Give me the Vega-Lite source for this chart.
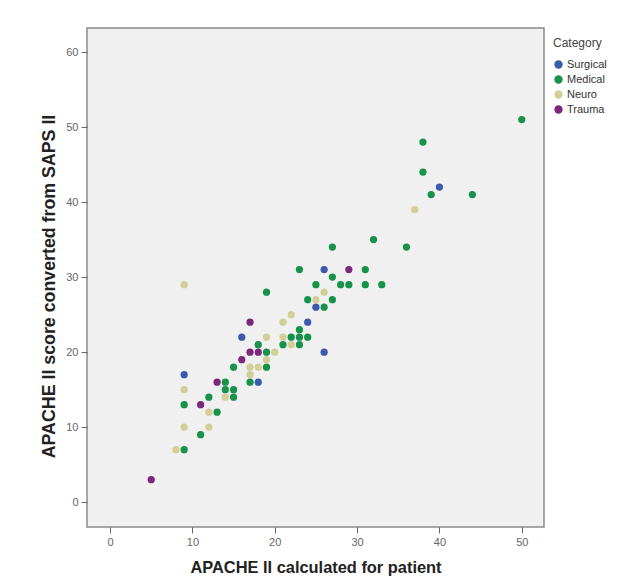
{
  "$schema": "https://vega.github.io/schema/vega-lite/v6.json",
  "width": 457,
  "height": 499,
  "autosize": {"type": "none"},
  "padding": {"left": 87, "top": 28, "right": 94, "bottom": 54},
  "background": "white",
  "config": {
    "font": "Liberation Sans",
    "view": {"fill": "#f0f0f0", "stroke": "#8a8a8a", "strokeWidth": 1.5}
  },
  "data": {
    "values": [
      {"apache": 40, "saps": 42, "category": "Surgical"},
      {"apache": 26, "saps": 31, "category": "Surgical"},
      {"apache": 25, "saps": 26, "category": "Surgical"},
      {"apache": 24, "saps": 24, "category": "Surgical"},
      {"apache": 16, "saps": 22, "category": "Surgical"},
      {"apache": 26, "saps": 20, "category": "Surgical"},
      {"apache": 9, "saps": 17, "category": "Surgical"},
      {"apache": 18, "saps": 16, "category": "Surgical"},
      {"apache": 50, "saps": 51, "category": "Medical"},
      {"apache": 38, "saps": 48, "category": "Medical"},
      {"apache": 38, "saps": 44, "category": "Medical"},
      {"apache": 39, "saps": 41, "category": "Medical"},
      {"apache": 44, "saps": 41, "category": "Medical"},
      {"apache": 32, "saps": 35, "category": "Medical"},
      {"apache": 27, "saps": 34, "category": "Medical"},
      {"apache": 36, "saps": 34, "category": "Medical"},
      {"apache": 23, "saps": 31, "category": "Medical"},
      {"apache": 31, "saps": 31, "category": "Medical"},
      {"apache": 27, "saps": 30, "category": "Medical"},
      {"apache": 19, "saps": 28, "category": "Medical"},
      {"apache": 25, "saps": 29, "category": "Medical"},
      {"apache": 28, "saps": 29, "category": "Medical"},
      {"apache": 29, "saps": 29, "category": "Medical"},
      {"apache": 31, "saps": 29, "category": "Medical"},
      {"apache": 33, "saps": 29, "category": "Medical"},
      {"apache": 24, "saps": 27, "category": "Medical"},
      {"apache": 27, "saps": 27, "category": "Medical"},
      {"apache": 26, "saps": 26, "category": "Medical"},
      {"apache": 23, "saps": 23, "category": "Medical"},
      {"apache": 22, "saps": 22, "category": "Medical"},
      {"apache": 23, "saps": 22, "category": "Medical"},
      {"apache": 24, "saps": 22, "category": "Medical"},
      {"apache": 18, "saps": 21, "category": "Medical"},
      {"apache": 21, "saps": 21, "category": "Medical"},
      {"apache": 23, "saps": 21, "category": "Medical"},
      {"apache": 19, "saps": 20, "category": "Medical"},
      {"apache": 15, "saps": 18, "category": "Medical"},
      {"apache": 19, "saps": 18, "category": "Medical"},
      {"apache": 17, "saps": 16, "category": "Medical"},
      {"apache": 14, "saps": 16, "category": "Medical"},
      {"apache": 14, "saps": 15, "category": "Medical"},
      {"apache": 15, "saps": 15, "category": "Medical"},
      {"apache": 12, "saps": 14, "category": "Medical"},
      {"apache": 15, "saps": 14, "category": "Medical"},
      {"apache": 9, "saps": 13, "category": "Medical"},
      {"apache": 13, "saps": 12, "category": "Medical"},
      {"apache": 11, "saps": 9, "category": "Medical"},
      {"apache": 9, "saps": 7, "category": "Medical"},
      {"apache": 37, "saps": 39, "category": "Neuro"},
      {"apache": 9, "saps": 29, "category": "Neuro"},
      {"apache": 26, "saps": 28, "category": "Neuro"},
      {"apache": 25, "saps": 27, "category": "Neuro"},
      {"apache": 22, "saps": 25, "category": "Neuro"},
      {"apache": 21, "saps": 24, "category": "Neuro"},
      {"apache": 19, "saps": 22, "category": "Neuro"},
      {"apache": 21, "saps": 22, "category": "Neuro"},
      {"apache": 22, "saps": 21, "category": "Neuro"},
      {"apache": 20, "saps": 20, "category": "Neuro"},
      {"apache": 19, "saps": 19, "category": "Neuro"},
      {"apache": 17, "saps": 18, "category": "Neuro"},
      {"apache": 18, "saps": 18, "category": "Neuro"},
      {"apache": 17, "saps": 17, "category": "Neuro"},
      {"apache": 9, "saps": 15, "category": "Neuro"},
      {"apache": 14, "saps": 14, "category": "Neuro"},
      {"apache": 12, "saps": 12, "category": "Neuro"},
      {"apache": 9, "saps": 10, "category": "Neuro"},
      {"apache": 12, "saps": 10, "category": "Neuro"},
      {"apache": 8, "saps": 7, "category": "Neuro"},
      {"apache": 29, "saps": 31, "category": "Trauma"},
      {"apache": 17, "saps": 24, "category": "Trauma"},
      {"apache": 17, "saps": 20, "category": "Trauma"},
      {"apache": 18, "saps": 20, "category": "Trauma"},
      {"apache": 16, "saps": 19, "category": "Trauma"},
      {"apache": 13, "saps": 16, "category": "Trauma"},
      {"apache": 11, "saps": 13, "category": "Trauma"},
      {"apache": 5, "saps": 3, "category": "Trauma"}
    ]
  },
  "mark": {"type": "circle", "size": 52, "opacity": 1},
  "encoding": {
    "x": {
      "field": "apache",
      "type": "quantitative",
      "scale": {"domain": [-2.8, 52.7], "nice": false, "zero": false},
      "axis": {
        "title": "APACHE II calculated for patient",
        "values": [0, 10, 20, 30, 40, 50],
        "grid": false,
        "domain": false,
        "tickColor": "#666",
        "tickSize": 6,
        "labelColor": "#666",
        "labelFontSize": 11,
        "labelPadding": 3,
        "titleFontSize": 16.4,
        "titleFontWeight": "bold",
        "titleColor": "#222",
        "titlePadding": 12
      }
    },
    "y": {
      "field": "saps",
      "type": "quantitative",
      "scale": {"domain": [-3.3, 63.2], "nice": false, "zero": false},
      "axis": {
        "title": "APACHE II score converted from SAPS II",
        "values": [0, 10, 20, 30, 40, 50, 60],
        "grid": false,
        "domain": false,
        "tickColor": "#666",
        "tickSize": 6,
        "labelColor": "#666",
        "labelFontSize": 11,
        "labelPadding": 3,
        "titleFontSize": 17.8,
        "titleFontWeight": "bold",
        "titleColor": "#222",
        "titleX": -38,
        "titleY": 258,
        "titleAngle": -90,
        "titleAlign": "center",
        "titleBaseline": "middle"
      }
    },
    "color": {
      "field": "category",
      "type": "nominal",
      "scale": {
        "domain": ["Surgical", "Medical", "Neuro", "Trauma"],
        "range": ["#3e58ac", "#17924a", "#d3ce97", "#7c287d"]
      },
      "legend": {
        "title": "Category",
        "orient": "none",
        "legendX": 466,
        "legendY": 10,
        "titleFontSize": 12,
        "titleFontWeight": "normal",
        "titleColor": "#444",
        "titlePadding": 9,
        "labelFontSize": 11,
        "labelColor": "#333",
        "symbolType": "circle",
        "symbolSize": 70,
        "symbolStrokeWidth": 0,
        "rowPadding": 3,
        "labelOffset": 3
      }
    }
  }
}
